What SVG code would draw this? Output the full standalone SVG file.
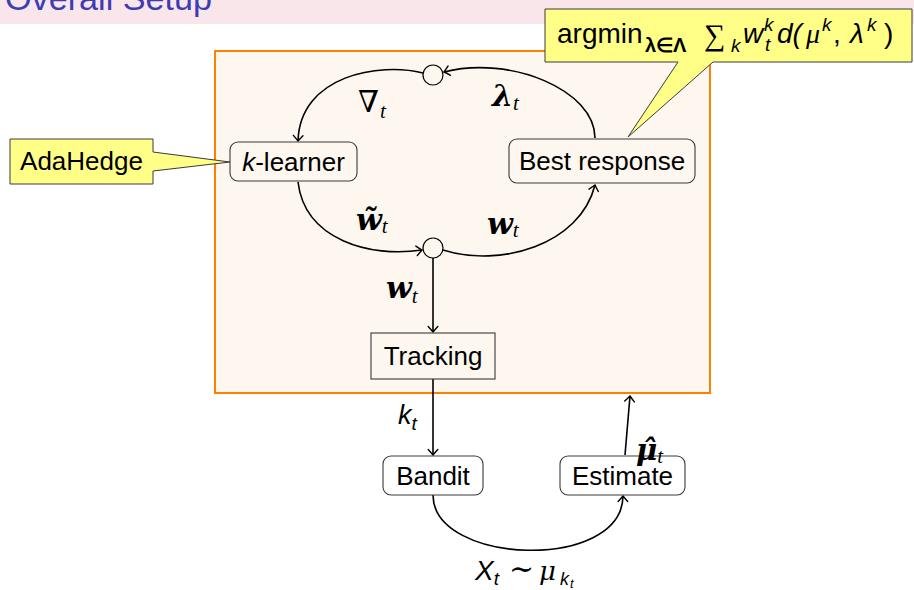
<svg xmlns="http://www.w3.org/2000/svg" width="914" height="590" viewBox="0 0 914 590">
<defs>
<marker id="arr" markerUnits="userSpaceOnUse" markerWidth="14" markerHeight="14" viewBox="-8 -7 10 14" refX="0" refY="0" orient="auto">
<path d="M-5.5,-4.8 Q-2,-1.6 0,0 Q-2,1.6 -5.5,4.8" fill="none" stroke="#000" stroke-width="1.4" stroke-linecap="round"/>
</marker>
</defs>
<style>
.node{fill:none;stroke:#3a3a3a;stroke-width:1.1}
.lbl{font-family:"Liberation Sans",Arial,sans-serif;font-size:26px;fill:#000}
.edge{fill:none;stroke:#000;stroke-width:1.6}
.srf{font-family:"Liberation Serif","DejaVu Serif",serif;fill:#000}
.bm{font-family:"DejaVu Serif","Liberation Serif",serif;font-weight:bold;font-style:italic;fill:#000}
.sub{font-family:"Liberation Serif","DejaVu Serif",serif;font-style:italic;font-weight:normal;font-size:21px}
.sans{font-family:"Liberation Sans",Arial,sans-serif;fill:#000}
.call{fill:#ffff88;stroke:#3a3a3a;stroke-width:1}
.dot{fill:#fdf7f0;stroke:#000;stroke-width:1.2}
</style>
<rect x="0" y="0" width="914" height="590" fill="#fff"/>
<g id="titlebar">
<rect x="0" y="0" width="914" height="24" fill="#f9e6eb"/>
<text x="5" y="10" font-family="Liberation Sans,Arial,sans-serif" font-size="33" textLength="207" lengthAdjust="spacingAndGlyphs" fill="#3c3cb4">Overall Setup</text>
</g>
<g id="frame">
<rect x="215" y="51" width="495" height="342" fill="#fdf7f0" stroke="#ff8000" stroke-width="2"/>
</g>
<g id="connectors">
<path class="edge" d="M595,138 C595,90 510,55 444,72" marker-end="url(#arr)"/>
<path class="edge" d="M423,73 C380,62 300,75 298,141" marker-end="url(#arr)"/>
<path class="edge" d="M298,182 C305,240 370,258 422,250" marker-end="url(#arr)"/>
<path class="edge" d="M443,250 C500,268 580,245 595,185" marker-end="url(#arr)"/>
<path class="edge" d="M433,257 L433,332" marker-end="url(#arr)"/>
<path class="edge" d="M433,379 L433,455" marker-end="url(#arr)"/>
<path class="edge" d="M433,495 C433,565 622,572 623,496" marker-end="url(#arr)"/>
<path class="edge" d="M625,455 L630,396" marker-end="url(#arr)"/>
</g>
<g id="junction-top"><circle class="dot" cx="433" cy="75" r="10"/></g>
<g id="junction-bottom"><circle class="dot" cx="433" cy="248" r="10"/></g>
<g id="k-learner">
<rect class="node" x="230" y="142" width="127" height="39" rx="8"/>
<text class="lbl" x="293.5" y="171" text-anchor="middle"><tspan font-style="italic">k</tspan>-learner</text>
</g>
<g id="best-response">
<rect class="node" x="509" y="139" width="186" height="44" rx="8"/>
<text class="lbl" x="602" y="170" text-anchor="middle">Best response</text>
</g>
<g id="tracking">
<rect class="node" x="371" y="333" width="124" height="46"/>
<text class="lbl" x="433" y="365" text-anchor="middle">Tracking</text>
</g>
<g id="bandit">
<rect class="node" x="383" y="456" width="100" height="39" rx="8"/>
<text class="lbl" x="433" y="485" text-anchor="middle">Bandit</text>
</g>
<g id="estimate">
<rect class="node" x="560" y="456" width="125" height="39" rx="8"/>
<text class="lbl" x="622.5" y="485" text-anchor="middle">Estimate</text>
</g>
<g id="adahedge">
<path class="call" d="M10,139 H153 V152 L230,162 L153,171 V184 H10 Z"/>
<text class="lbl" x="81.5" y="170" text-anchor="middle">AdaHedge</text>
</g>
<g id="argmin">
<path class="call" d="M545,9 H912 V62 H713 L628,137 L678,62 H545 Z"/>
<text class="sans" x="557" y="43" font-size="28">argmin</text>
<text class="sans" x="645" y="52" font-size="20" font-weight="bold">λ∈Λ</text>
<text class="srf" x="704" y="45" font-size="30">∑</text>
<text class="sans" x="731" y="52" font-size="19" font-style="italic">k</text>
<text class="sans" x="743" y="43" font-size="28" font-style="italic">w</text>
<text class="sans" x="764" y="31" font-size="19" font-style="italic">k</text>
<text class="sans" x="765" y="51" font-size="19" font-style="italic">t</text>
<text class="sans" x="777" y="43" font-size="28" font-style="italic">d(</text>
<text class="srf" x="806" y="43" font-size="28" font-style="italic">μ</text>
<text class="sans" x="822" y="31" font-size="19" font-style="italic">k</text>
<text class="sans" x="833" y="43" font-size="28">,</text>
<text class="sans" x="850" y="43" font-size="28" font-style="italic">λ</text>
<text class="sans" x="867" y="31" font-size="19" font-style="italic">k</text>
<text class="sans" x="884" y="43" font-size="28">)</text>
</g>
<g id="labels">
<text class="srf" x="358" y="112" font-size="30">∇<tspan class="sub" dx="1" dy="6">t</tspan></text>
<text class="bm" x="492" y="106" font-size="30">λ<tspan class="sub" dy="4">t</tspan></text>
<text class="bm" x="356" y="230" font-size="30">w̃<tspan class="sub" dy="3">t</tspan></text>
<text class="bm" x="487" y="234" font-size="30">w<tspan class="sub" dy="3">t</tspan></text>
<text class="bm" x="386" y="298" font-size="30">w<tspan class="sub" dy="5">t</tspan></text>
<text class="sans" x="398" y="424" font-size="27" font-style="italic">k<tspan font-size="19" dy="6">t</tspan></text>
<text class="bm" x="636" y="460" font-size="29">μ̂<tspan class="sub" dy="3">t</tspan></text>
<text class="sans" x="475" y="580" font-size="28" font-style="italic">X<tspan font-size="19" dy="5">t</tspan></text>
<text class="srf" x="509" y="579" font-size="30">∼</text>
<text x="539" y="580" font-family="DejaVu Serif,serif" font-size="26" font-style="italic">μ</text>
<text class="sans" x="560" y="585" font-size="18" font-style="italic">k</text>
<text class="sans" x="570" y="588" font-size="13" font-style="italic">t</text>
</g>
</svg>
